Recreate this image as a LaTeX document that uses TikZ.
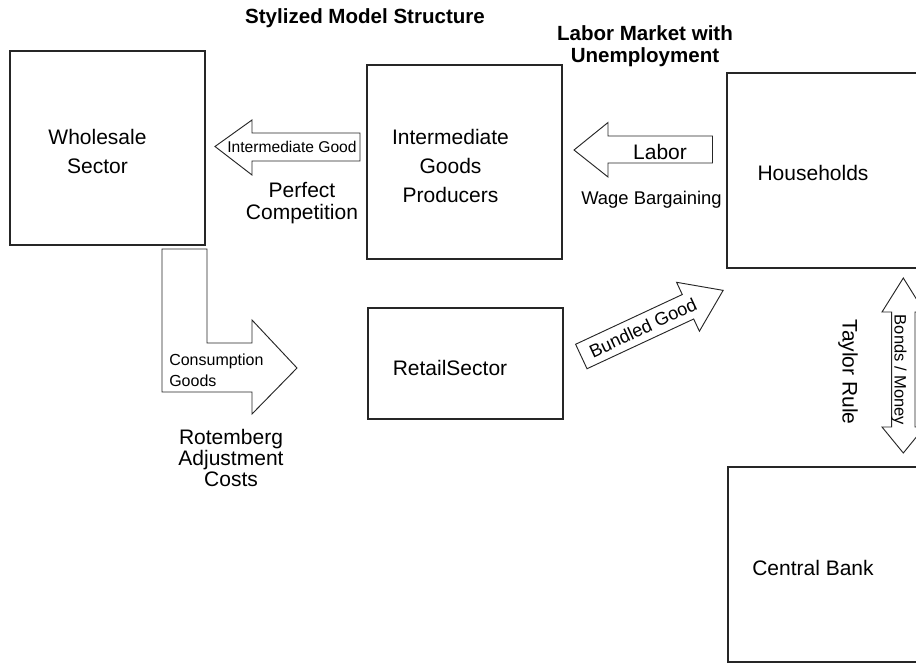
\documentclass[tikz,border=0pt]{standalone}
\usepackage{fontspec}
\setmainfont{Liberation Sans}
\begin{document}
\begin{tikzpicture}[x=0.75pt,y=-0.75pt,
  block/.style={draw=black!85,line width=1pt},
  blockarrow/.style={draw=black!85,line width=0.7pt,fill=white,line join=miter},
  lbl/.style={font=\fontsize{15.75}{21.75}\selectfont,align=center,inner sep=0pt},
  tightlbl/.style={font=\fontsize{15.75}{16}\selectfont,align=center,inner sep=0pt},
  heading/.style={font=\fontsize{15.4}{16.5}\selectfont\bfseries,align=center,inner sep=0pt}]
\useasboundingbox (0,0) rectangle (916,663);
\clip (0,0) rectangle (916,663);

% headings
\node[heading] (title) at (365,18) {Stylized Model Structure};
\node[heading] (labmkt) at (645,46) {Labor Market with\\Unemployment};

% sector boxes
\draw[block] (10,51) rectangle (205,245);
\node[lbl] (wholesale) at (97.5,151) {Wholesale\\Sector};

\draw[block] (367,65) rectangle (562,259);
\node[lbl] (inter) at (450.5,166) {Intermediate\\Goods\\Producers};

\draw[block] (727,73) rectangle (922,268);
\node[lbl] (hh) at (813,173) {Households};

\draw[block] (368,308) rectangle (563,419);
\node[lbl] (retail) at (450,368) {RetailSector};

\draw[block] (728,467) rectangle (923,662);
\node[lbl] (cb) at (813,568) {Central Bank};

% intermediate good flow (left-pointing block arrow)
\draw[blockarrow] (360,133) -- (252,133) -- (252,120) -- (215,146.5) -- (252,175)
  -- (252,161) -- (360,161) -- cycle;
\node[font=\fontsize{11.7}{13}\selectfont,inner sep=0pt] (igood) at (292,147) {Intermediate Good};

% labour flow
\draw[blockarrow] (712.5,136) -- (608,136) -- (608,122.5) -- (574,150) -- (608,177)
  -- (608,163) -- (712.5,163) -- cycle;
\node[lbl] (labor) at (660,152) {Labor};

% consumption goods (bent block arrow)
\draw[blockarrow] (162,249) -- (207,249) -- (207,343) -- (252,343) -- (252,320)
  -- (297,368) -- (252,414) -- (252,392) -- (162,392) -- cycle;
\node[font=\fontsize{12}{13}\selectfont,inner sep=0pt,anchor=west] (cons1) at (169,361) {Consumption};
\node[font=\fontsize{12}{13}\selectfont,inner sep=0pt,anchor=west] (cons2) at (169,381) {Goods};

% bundled good (tilted block arrow)
\begin{scope}[shift={(581.3,356.5)},rotate=25]
  \draw[blockarrow] (0,-13.5) -- (117.7,-13.5) -- (117.7,-27) -- (156.5,0)
    -- (117.7,27) -- (117.7,13.5) -- (0,13.5) -- cycle;
  \node[font=\fontsize{13.6}{15}\selectfont,inner sep=0pt,rotate=25] (bundled) at (68,0) {Bundled Good};
\end{scope}

% bonds / money (double block arrow)
\draw[blockarrow] (903.3,278) -- (924.5,312) -- (915,312) -- (915,427) -- (924.5,427)
  -- (903.3,453) -- (882,427) -- (891.7,427) -- (891.7,312) -- (882,312) -- cycle;
\node[font=\fontsize{12.4}{14}\selectfont,inner sep=0pt,rotate=-90] (bonds) at (899,370) {Bonds / Money};

% annotations
\node[tightlbl] (perfcomp) at (302,203) {Perfect\\Competition};
\node[font=\fontsize{13.8}{15}\selectfont,inner sep=0pt] (wage) at (651.5,200) {Wage Bargaining};
\node[font=\fontsize{15.75}{16.1}\selectfont,align=center,inner sep=0pt] (rotem) at (231,458) {Rotemberg\\Adjustment\\Costs};
\node[lbl,rotate=-90] (taylor) at (848,372) {Taylor Rule};
\end{tikzpicture}
\end{document}
